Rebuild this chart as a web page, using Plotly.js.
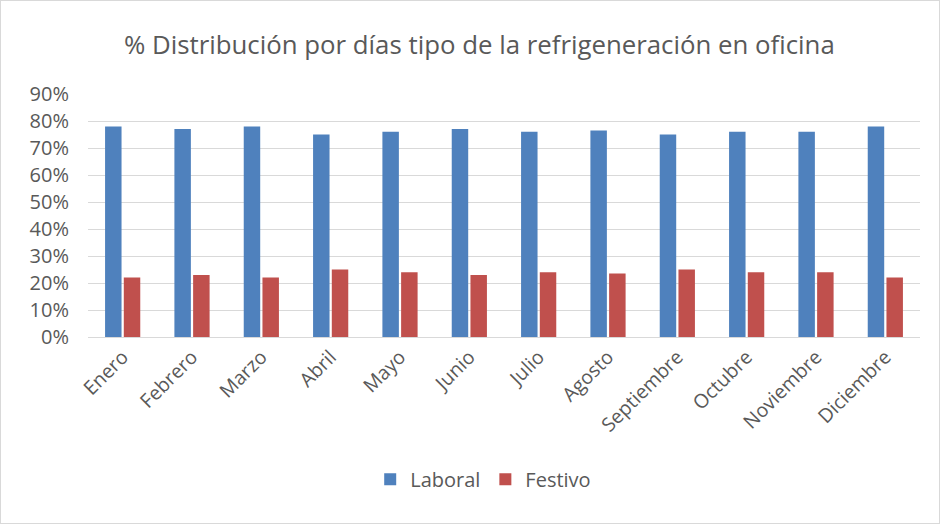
<!DOCTYPE html>
<html>
<head>
<meta charset="utf-8">
<script src="https://cdn.plot.ly/plotly-3.0.1.min.js"></script>
<style>
html,body{margin:0;padding:0;background:#fff;}
#chart{width:938px;height:522px;border:1px solid #d9d9d9;}
</style>
</head>
<body>
<div id="chart"></div>
<script>
const months = ["Enero","Febrero","Marzo","Abril","Mayo","Junio","Julio","Agosto","Septiembre","Octubre","Noviembre","Diciembre"];
const laboral = [0.78,0.77,0.78,0.75,0.76,0.77,0.76,0.765,0.75,0.76,0.76,0.78];
const festivo = [0.22,0.23,0.22,0.25,0.24,0.23,0.24,0.235,0.25,0.24,0.24,0.22];
const yTicks = [0,0.1,0.2,0.3,0.4,0.5,0.6,0.7,0.8,0.9];
const yTickText = ["0%","10%","20%","30%","40%","50%","60%","70%","80%","90%"];

const font = "'Open Sans', sans-serif";
const traces = [
  {type:"bar", name:"Laboral", x:months, y:laboral, marker:{color:"#4f81bd"}},
  {type:"bar", name:"Festivo", x:months, y:festivo, marker:{color:"#c0504d"}}
];
const layout = {
  width:938, height:522,
  margin:{l:87,r:19,t:93,b:186},
  paper_bgcolor:"#fff", plot_bgcolor:"#fff",
  font:{family:font, color:"#595959", size:19},
  title:{text:"% Distribución por días tipo de la refrigeneración en oficina", x:0.51, xanchor:"center", y:0.915, yanchor:"middle", font:{family:font, size:25.8, color:"#595959"}},
  barmode:"group", bargap:0.46, bargroupgap:0.12,
  xaxis:{tickangle:-45, showline:true, linecolor:"#d9d9d9", linewidth:1, ticks:"", tickfont:{size:19.5}, fixedrange:true},
  yaxis:{range:[0,0.9], tickvals:yTicks, ticktext:yTickText, showgrid:true, gridcolor:"#d9d9d9", gridwidth:1, zeroline:false, ticks:"", tickfont:{size:20}, ticklabelstandoff:18, fixedrange:true},
  showlegend:true,
  legend:{orientation:"h", x:0.475, xanchor:"center", y:-0.585, yanchor:"middle", font:{size:20}, itemwidth:30, traceorder:"normal"}
};
Plotly.newPlot("chart", traces, layout, {displayModeBar:false, staticPlot:true});
</script>
</body>
</html>
